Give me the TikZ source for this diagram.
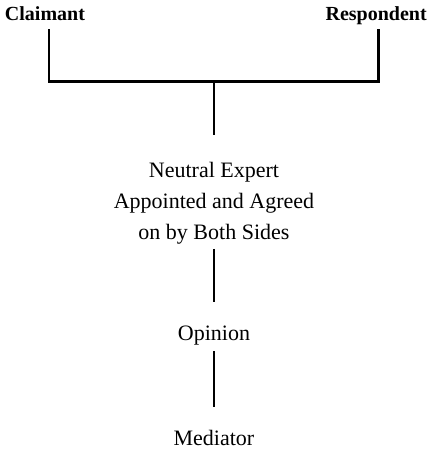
\documentclass[tikz,border=0pt]{standalone}
\usepackage{fontspec}
\setmainfont{Liberation Serif}
\usetikzlibrary{positioning}
\tikzset{
  party/.style={font=\bfseries\fontsize{20}{24}\selectfont,inner sep=0pt,
                outer sep=0pt,text height=14pt,text depth=9pt},
  stage/.style={font=\fontsize{22}{31}\selectfont,inner sep=0pt,
                outer sep=0pt,text height=38pt,text depth=11pt},
  expert/.style={font=\fontsize{22}{31}\selectfont,inner sep=0pt,
                 outer sep=5pt,align=center},
  link/.style={line width=2.9pt}
}

\begin{document}
\begin{tikzpicture}
      \useasboundingbox (0,0) rectangle (15.08,15.92);
      % the two parties
      \node[party,anchor=base] (claim) at (1.58,15.2) {Claimant};
      \node[party,anchor=base] (resp) at (13.22,15.2) {Respondent};
      \coordinate (join) at (7.52,13.04);
      % chain down the middle
      \node[expert] (neutral) at (7.52,8.79)
        {Neutral Expert\\Appointed and Agreed\\on by Both Sides};
      \node[stage,anchor=base] (opinion) at (7.52,3.97) {Opinion};
      \node[stage,anchor=base] (mediator) at (7.52,0.28) {Mediator};
      \draw[link]([xshift=4pt]claim.south) |- (join) -| ([xshift=2pt]resp.south);
      \draw[link,shorten >=22pt](join) -- (neutral);
      \draw[link](neutral) -- (opinion);
      \draw[link](opinion) -- (mediator);
    \end{tikzpicture}
\end{document}
